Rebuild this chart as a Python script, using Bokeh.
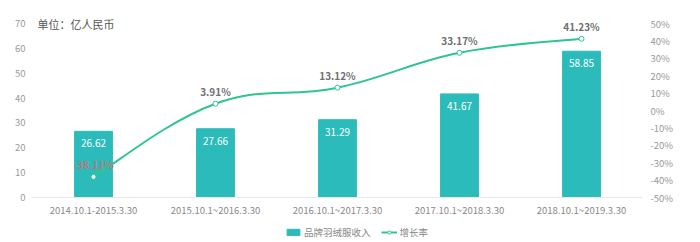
from bokeh.plotting import figure
from bokeh.layouts import column
from bokeh.models import (ColumnDataSource, Range1d, LinearAxis, FixedTicker,
                          PrintfTickFormatter, Legend, LegendItem, Label)
from bokeh.core.properties import value
from bokeh.embed import file_html
from bokeh.resources import INLINE

categories = ["2014.10.1-2015.3.30", "2015.10.1~2016.3.30", "2016.10.1~2017.3.30",
              "2017.10.1~2018.3.30", "2018.10.1~2019.3.30"]
revenue = [26.62, 27.66, 31.29, 41.67, 58.85]
growth = [-38.11, 3.91, 13.12, 33.17, 41.23]
growth_labels = ["-38.11%", "3.91%", "13.12%", "33.17%", "41.23%"]
left_ticks = [0, 10, 20, 30, 40, 50, 60, 70]
right_ticks = [-50, -40, -30, -20, -10, 0, 10, 20, 30, 40, 50]
series_names = ["品牌羽绒服收入", "增长率"]

FONT = "Noto Sans CJK SC"
BAR = "#2BBBBB"
LINE = "#2EC68C"

xs = [i + 0.5 for i in range(len(categories))]

# frame extends a little above the top tick so that the unit note fits inside
AXIS_PX = 174.0
FRAME_PX = 187
ext = FRAME_PX / AXIS_PX
left_top = left_ticks[0] + (left_ticks[-1] - left_ticks[0]) * ext
right_top = right_ticks[0] + (right_ticks[-1] - right_ticks[0]) * ext

p = figure(frame_width=610, frame_height=FRAME_PX, output_backend="svg", toolbar_location=None,
           x_range=Range1d(0, len(categories)), y_range=Range1d(left_ticks[0], left_top),
           min_border_left=32, min_border_right=58, min_border_top=10, min_border_bottom=20)
p.extra_y_ranges = {"pct": Range1d(right_ticks[0], right_top)}
p.outline_line_color = None
p.grid.visible = False
p.background_fill_color = "white"
p.border_fill_color = "white"


def style_axis(ax, color, standoff):
    ax.axis_line_color = None
    ax.major_tick_line_color = None
    ax.minor_tick_line_color = None
    ax.major_tick_out = 0
    ax.major_tick_in = 0
    ax.minor_tick_out = 0
    ax.minor_tick_in = 0
    ax.major_label_text_color = color
    ax.major_label_text_font = FONT
    ax.major_label_text_font_size = "9.5px"
    ax.major_label_standoff = standoff


# axes
xa = p.xaxis[0]
xa.ticker = FixedTicker(ticks=xs)
xa.major_label_overrides = {x: c for x, c in zip(xs, categories)}
style_axis(xa, "#888888", 5)
xa.axis_line_color = "#e8e8e8"

ya = p.yaxis[0]
ya.ticker = FixedTicker(ticks=left_ticks)
style_axis(ya, "#999999", 7)

ra = LinearAxis(y_range_name="pct", ticker=FixedTicker(ticks=right_ticks),
                formatter=PrintfTickFormatter(format="%d%%"))
style_axis(ra, "#999999", 8)
p.add_layout(ra, "right")

# bars
src = ColumnDataSource(dict(x=xs, rev=revenue, revlab=[f"{v:.2f}" for v in revenue],
                            g=growth, glab=growth_labels))
p.vbar(x="x", top="rev", width=0.31, bottom=0, source=src, color=BAR)
p.text(x="x", y="rev", text="revlab", source=src, text_color="white",
       text_font=value(FONT), text_font_size="10px", text_align="center",
       text_baseline="middle", y_offset=12)

# smooth growth line (bezier segments with control points from neighbouring data)
t = 0.2
n = len(xs)
x0, y0, x1, y1, cx0, cy0, cx1, cy1 = [], [], [], [], [], [], [], []
for i in range(n - 1):
    pi = (xs[i], growth[i])
    pj = (xs[i + 1], growth[i + 1])
    pp = (xs[i - 1], growth[i - 1]) if i > 0 else pi
    pn = (xs[i + 2], growth[i + 2]) if i + 2 < n else pj
    x0.append(pi[0]); y0.append(pi[1]); x1.append(pj[0]); y1.append(pj[1])
    cx0.append(pi[0] + t * (pj[0] - pp[0])); cy0.append(pi[1] + t * (pj[1] - pp[1]))
    cx1.append(pj[0] - t * (pn[0] - pi[0])); cy1.append(pj[1] - t * (pn[1] - pi[1]))
p.bezier(x0=x0, y0=y0, x1=x1, y1=y1, cx0=cx0, cy0=cy0, cx1=cx1, cy1=cy1,
         line_color=LINE, line_width=2, y_range_name="pct")
p.scatter(x="x", y="g", source=src, y_range_name="pct", size=5,
          fill_color="white", line_color=LINE, line_width=1)

lab_colors = ["#b8797b"] + ["#707070"] * (n - 1)
src.data["lc"] = lab_colors
p.text(x="x", y="g", text="glab", source=src, y_range_name="pct",
       text_color="lc", text_font=value(FONT), text_font_size="10px",
       text_font_style="bold", text_align="center", text_baseline="middle",
       y_offset=-12)

p.add_layout(Label(x=0.04, y=left_ticks[-1], text="单位：亿人民币", text_color="#555555",
                   text_font=FONT, text_font_size="11px", text_align="left",
                   text_baseline="middle"))

# legend strip below the chart
lg = figure(width=700, height=25, output_backend="svg", toolbar_location=None,
            x_range=Range1d(0, 1), y_range=Range1d(0, 1), x_axis_type=None, y_axis_type=None,
            min_border=0)
lg.outline_line_color = None
lg.grid.visible = False
lr_bar = lg.vbar(x=[-5], top=[-5], width=0.1, color=BAR)
lr_line = lg.line(x=[-5, -4], y=[-5, -5], line_color=LINE, line_width=2)
lr_pt = lg.scatter(x=[-5], y=[-5], size=5, fill_color="white", line_color=LINE, line_width=1)
legend = Legend(items=[LegendItem(label=series_names[0], renderers=[lr_bar]),
                       LegendItem(label=series_names[1], renderers=[lr_line, lr_pt])],
                orientation="horizontal", location=(253, 5),
                label_text_font=FONT, label_text_font_size="9.5px",
                label_text_color="#888888", glyph_width=16, glyph_height=8,
                spacing=10, padding=2, margin=0, label_standoff=3,
                label_height=12, border_line_color=None, background_fill_alpha=0)
lg.add_layout(legend, "center")

open("out.html", "w").write(file_html(column(p, lg, spacing=0), INLINE))
